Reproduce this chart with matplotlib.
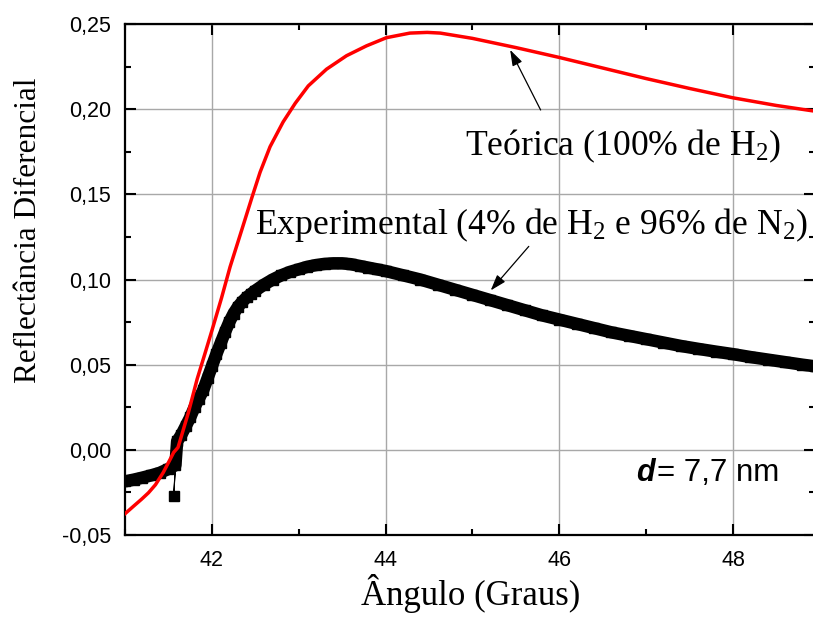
import numpy as np
import matplotlib
matplotlib.use("Agg")
import matplotlib.pyplot as plt
from matplotlib.ticker import MultipleLocator, FuncFormatter

# Theoretical curve (100% H2)
teo_x = [41.00, 41.10, 41.19, 41.27, 41.35, 41.44, 41.52, 41.56, 41.61, 41.65,
         41.73, 41.83, 41.92, 42.00, 42.11, 42.21, 42.34, 42.46, 42.555, 42.67,
         42.82, 42.96, 43.11, 43.32, 43.55, 43.78, 44.01, 44.28, 44.48, 44.63,
         45.00, 45.50, 46.00, 46.50, 47.00, 47.50, 48.00, 48.50, 48.95]
teo_y = [-0.0375, -0.0330, -0.0290, -0.0252, -0.0205, -0.0133, -0.0055, -0.0015, 0.0014, 0.0082,
         0.0220, 0.0415, 0.0565, 0.0700, 0.0890, 0.1075, 0.1285, 0.1480, 0.1630, 0.1780,
         0.1925, 0.2035, 0.2137, 0.2235, 0.2314, 0.2372, 0.2420, 0.2447, 0.2451, 0.2447,
         0.2416, 0.2362, 0.2304, 0.2242, 0.2180, 0.2122, 0.2067, 0.2022, 0.1988]

# Experimental curve (4% H2, 96% N2)
exp_x = [41.00, 41.10, 41.20, 41.30, 41.40, 41.50, 41.58, 41.56, 41.60, 41.65,
         41.70, 41.75, 41.80, 41.85, 41.90, 41.95, 42.00, 42.05, 42.10, 42.15,
         42.20, 42.25, 42.30, 42.35, 42.40, 42.45, 42.50, 42.60, 42.70, 42.80,
         42.90, 43.00, 43.10, 43.20, 43.30, 43.40, 43.50, 43.60, 43.70, 43.80,
         43.90, 44.00, 44.20, 44.40, 44.60, 44.80, 45.00, 45.20, 45.40, 45.60,
         45.80, 46.00, 46.20, 46.40, 46.60, 46.80, 47.00, 47.20, 47.40, 47.60,
         47.80, 48.00, 48.20, 48.40, 48.60, 48.80, 48.95]
exp_y = [-0.0185, -0.0175, -0.0163, -0.0150, -0.0135, -0.0112, -0.0090, -0.0270, 0.0050, 0.0090,
         0.0140, 0.0190, 0.0250, 0.0300, 0.0350, 0.0420, 0.0490, 0.0560, 0.0625, 0.0690,
         0.0750, 0.0800, 0.0840, 0.0870, 0.0895, 0.0915, 0.0935, 0.0970, 0.1000, 0.1025,
         0.1045, 0.1060, 0.1075, 0.1085, 0.1092, 0.1095, 0.1095, 0.1090, 0.1080, 0.1070,
         0.1060, 0.1050, 0.1025, 0.1000, 0.0970, 0.0940, 0.0910, 0.0880, 0.0850, 0.0820,
         0.0790, 0.0765, 0.0740, 0.0715, 0.0690, 0.0670, 0.0650, 0.0630, 0.0610, 0.0593,
         0.0577, 0.0562, 0.0545, 0.0530, 0.0515, 0.0500, 0.0490]
outlier_index = 7

xticks = [42, 44, 46, 48]
yticks = [-0.05, 0.00, 0.05, 0.10, 0.15, 0.20, 0.25]

plt.rcParams['mathtext.fontset'] = 'custom'
plt.rcParams['mathtext.rm'] = 'Liberation Serif'
plt.rcParams['mathtext.it'] = 'Liberation Serif:italic'

fig = plt.figure(figsize=(8.13, 6.17), dpi=100)
ax = fig.add_axes([0.1538, 0.1329, 1.003 - 0.1538, 0.961 - 0.1329])

ex = np.array(exp_x)
ey = np.array(exp_y)
mask = np.ones(len(ex), dtype=bool)
mask[outlier_index] = False
ax.plot(ex, ey, color='black', lw=0.8, marker='s', ms=7.5, mec='black', mfc='black', zorder=3)
ax.plot(ex[mask], ey[mask], color='black', lw=9, solid_capstyle='butt',
        solid_joinstyle='round', zorder=3)
ax.plot(teo_x, teo_y, color='#ff0000', lw=2.5, solid_joinstyle='round', zorder=4)

ax.set_xlim(41, 48.95)
ax.set_ylim(-0.05, 0.25)
ax.set_xticks(xticks)
ax.set_yticks(yticks)
ax.xaxis.set_minor_locator(MultipleLocator(1))
ax.yaxis.set_minor_locator(MultipleLocator(0.025))
ax.yaxis.set_major_formatter(FuncFormatter(lambda v, p: f"{v:.2f}".replace('.', ',')))
ax.xaxis.set_major_formatter(FuncFormatter(lambda v, p: f"{v:.0f}"))

ax.grid(True, which='major', color='#a8a8a8', lw=1.0)
ax.set_axisbelow(True)
for s in ax.spines.values():
    s.set_linewidth(1.6)
ax.tick_params(which='both', direction='in', top=True, right=True, width=1.5)
ax.tick_params(which='major', length=8)
ax.tick_params(which='minor', length=4.5)
ax.tick_params(axis='x', which='major', pad=11)
ax.tick_params(axis='y', which='major', pad=10)
for lab in ax.get_xticklabels() + ax.get_yticklabels():
    lab.set_fontfamily('Liberation Sans')
    lab.set_fontsize(15.5)

ax.set_xlabel('Ângulo (Graus)', fontfamily='Liberation Serif', fontsize=25, labelpad=2)
ax.set_ylabel('Reflectância Diferencial', fontfamily='Liberation Serif', fontsize=22.5, va='center')
ax.yaxis.set_label_coords(-0.14, 0.597)

ax.text(44.92, 0.173, 'Teórica (100% de H$_2$)', fontfamily='Liberation Serif', fontsize=25.7,
        va='baseline', ha='left')
ax.text(42.50, 0.1267, 'Experimental (4% de H$_2$ e 96% de N$_2$)', fontfamily='Liberation Serif',
        fontsize=25.7, va='baseline', ha='left')
ax.annotate('', xy=(45.42, 0.2363), xytext=(45.80, 0.1981),
            arrowprops=dict(arrowstyle='-|>,head_length=0.6,head_width=0.2', color='black',
                            lw=0.9, mutation_scale=16))
ax.annotate('', xy=(45.19, 0.0924), xytext=(45.67, 0.1207),
            arrowprops=dict(arrowstyle='-|>,head_length=0.6,head_width=0.2', color='black',
                            lw=0.9, mutation_scale=16))

ax.text(46.88, -0.0184, 'd', fontfamily='Liberation Sans', fontsize=22, fontweight='bold',
        fontstyle='italic', va='baseline', ha='left')
ax.text(47.13, -0.0184, '= 7,7 nm', fontfamily='Liberation Sans', fontsize=22.5,
        va='baseline', ha='left')

fig.savefig('out.png', dpi=100)
